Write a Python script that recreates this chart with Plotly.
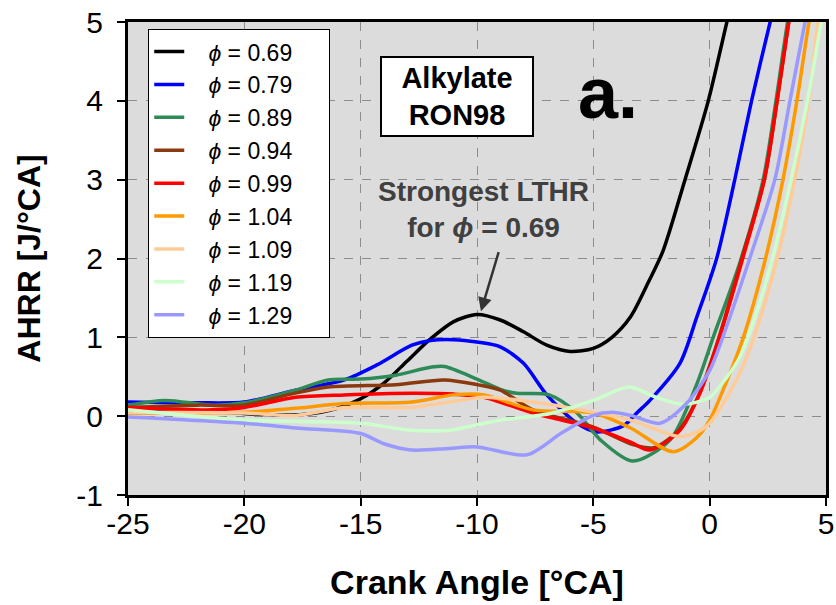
import plotly.graph_objects as go

# Apparent heat release rate vs crank angle for alkylate RON98 at several equivalence ratios
phi_labels = ["0.69", "0.79", "0.89", "0.94", "0.99", "1.04", "1.09", "1.19", "1.29"]
colors = ["#000000", "#0000ff", "#2e8b57", "#8b3a0f", "#ff0000",
          "#ff9900", "#ffcc99", "#ccffcc", "#9999ff"]

ca_069 = [-25, -23, -21, -19, -17.5, -16, -15, -14, -13, -12, -11, -10, -9, -8, -7, -6, -5, -4.2, -3.4, -2.6, -2.0, -1.06, -0.06, 0.74, 1.3]
hr_069 = [0.10, 0.08, 0.05, 0.02, 0.02, 0.10, 0.22, 0.42, 0.70, 0.98, 1.20, 1.29, 1.22, 1.07, 0.90, 0.82, 0.86, 1.0, 1.26, 1.72, 2.1, 3.0, 4.0, 5.0, 5.7]

ca_079 = [-25, -22, -20, -17.8, -15.7, -14.3, -12.8, -12, -11, -10, -9, -8, -7, -5.7, -4.85, -3.7, -3.1, -2.57, -1.28, -0.55, 0.3, 1.08, 1.8, 2.6, 3.1]
hr_079 = [0.18, 0.17, 0.18, 0.33, 0.46, 0.65, 0.90, 0.96, 0.97, 0.94, 0.88, 0.67, 0.27, -0.09, -0.20, -0.12, 0.05, 0.20, 0.67, 1.26, 2.0, 3.0, 4.0, 5.0, 5.6]

ca_089 = [-25, -23.4, -21.4, -20, -17.8, -16.4, -15, -13.5, -12, -11.4, -10, -9, -8.3, -6.9, -5.7, -4.7, -3.3, -1.7, -0.55, 0.15, 1.3, 2.3, 2.85, 3.35, 3.8]
hr_089 = [0.14, 0.20, 0.14, 0.17, 0.33, 0.46, 0.47, 0.52, 0.62, 0.63, 0.47, 0.34, 0.29, 0.27, 0.04, -0.30, -0.57, -0.30, 0.41, 1.0, 1.95, 3.0, 4.0, 5.0, 5.7]

ca_094 = [-25, -22, -20, -18, -16.4, -13.5, -11.4, -10, -9, -7.6, -5, -3.3, -2.4, -1.3, -0.45, 0.4, 1.38, 2.35, 2.9, 3.4, 3.8]
hr_094 = [0.11, 0.14, 0.14, 0.28, 0.37, 0.40, 0.46, 0.40, 0.33, 0.08, -0.14, -0.36, -0.40, -0.17, 0.28, 1.0, 2.0, 3.0, 4.0, 5.0, 5.7]

ca_099 = [-25, -21.4, -20, -17.8, -15.7, -12.8, -11, -9.7, -7.6, -5, -3.4, -2.57, -1.28, -0.42, 0.42, 1.42, 2.35, 2.9, 3.4, 3.8]
hr_099 = [0.11, 0.08, 0.11, 0.24, 0.27, 0.29, 0.28, 0.24, 0.04, -0.15, -0.33, -0.43, -0.18, 0.29, 1.0, 2.0, 3.0, 4.0, 5.0, 5.7]

ca_104 = [-25, -20, -17.8, -15.7, -12.8, -11, -9.7, -7.6, -5, -3.4, -1.57, -0.55, 0, 0.6, 1.45, 2.4, 3.15, 3.75, 4.27, 4.7]
hr_104 = [0.04, 0.05, 0.10, 0.16, 0.18, 0.27, 0.27, 0.08, 0.04, -0.15, -0.45, -0.27, -0.05, 0.35, 1.0, 2.0, 3.0, 4.0, 5.0, 5.7]

ca_109 = [-25, -20, -17.8, -15.7, -12.8, -11, -9.7, -7.6, -5, -3.4, -1.28, -0.4, 0, 0.6, 1.3, 1.9, 2.9, 3.65, 4.25, 4.65, 5.0]
hr_109 = [0.05, 0.04, 0.01, 0.11, 0.11, 0.19, 0.24, 0.18, 0.05, -0.05, -0.26, -0.18, -0.09, 0.17, 0.55, 1.0, 2.0, 3.0, 4.0, 5.0, 5.6]

ca_119 = [-25, -20, -15, -12.8, -11.2, -10, -9, -6.9, -5, -3.45, -2.3, -1.15, 0, 0.7, 1.3, 2.0, 2.7, 3.5, 4.2, 4.8, 5.2]
hr_119 = [0.08, -0.05, -0.09, -0.18, -0.18, -0.11, -0.05, 0.03, 0.20, 0.37, 0.24, 0.15, 0.24, 0.48, 0.75, 1.3, 2.0, 3.0, 4.0, 5.0, 5.6]

ca_129 = [-25, -20, -17.8, -15, -14, -12.8, -11.2, -10, -7.85, -6.4, -5, -4.2, -3.4, -2.14, -1.0, 0, 0.56, 1.72, 2.8, 3.45, 4.1, 4.5]
hr_129 = [-0.01, -0.09, -0.15, -0.22, -0.35, -0.43, -0.41, -0.39, -0.49, -0.22, 0.01, 0.05, 0.01, -0.09, 0.16, 0.58, 1.0, 2.0, 3.0, 4.0, 5.0, 5.6]

crank_angles = [ca_069, ca_079, ca_089, ca_094, ca_099, ca_104, ca_109, ca_119, ca_129]
heat_release = [hr_069, hr_079, hr_089, hr_094, hr_099, hr_104, hr_109, hr_119, hr_129]

x_ticks = [-25, -20, -15, -10, -5, 0, 5]
y_ticks = [-1, 0, 1, 2, 3, 4, 5]

FONT = "Liberation Sans, Arial, sans-serif"
PAD = "&nbsp;" * 3

fig = go.Figure()

for i in range(len(phi_labels)):
    fig.add_trace(go.Scatter(
        x=crank_angles[i], y=heat_release[i],
        mode="lines",
        line=dict(color=colors[i], width=3.5, shape="spline", smoothing=0.8),
        name=PAD + "<i>ϕ</i> = " + phi_labels[i] + PAD + "&nbsp;&nbsp;",
        legendgroup="g%d" % i,
    ))

axis_common = dict(
    showline=True, linecolor="black", linewidth=3, mirror=True,
    ticks="outside", ticklen=8, tickwidth=2, tickcolor="black",
    showgrid=True, gridcolor="#8c8c8c", gridwidth=1, griddash="dash",
    zeroline=False, automargin=False,
    tickfont=dict(family=FONT, size=30, color="black"),
)

fig.update_xaxes(
    range=[-25, 5], tickvals=x_ticks, ticktext=[str(v) for v in x_ticks],
    ticklabelstandoff=-8,
    title=dict(text="<b>Crank Angle [°CA]</b>", font=dict(family=FONT, size=34, color="black"), standoff=32),
    **axis_common,
)
fig.update_yaxes(
    range=[-1, 5], tickvals=y_ticks, ticktext=[str(v) for v in y_ticks],
    ticklabelstandoff=8,
    title=dict(text="<b>AHRR [J/°CA]</b>", font=dict(family=FONT, size=32, color="black"), standoff=27),
    **axis_common,
)

fig.add_annotation(
    x=-10.86, y=4.05, xref="x", yref="y",
    text="<b>Alkylate<br>RON98</b>", showarrow=False,
    font=dict(family=FONT, size=29, color="black"),
    bgcolor="white", bordercolor="black", borderwidth=2, borderpad=0,
    width=150, height=77,
)
fig.add_annotation(
    x=-4.37, y=4.1, xref="x", yref="y",
    text="<b>a.</b>", showarrow=False,
    font=dict(family=FONT, size=72, color="black"),
)
fig.add_annotation(
    x=-9.74, y=2.62, xref="x", yref="y",
    text="<b>Strongest LTHR<br>for <i>ϕ</i> = 0.69</b>", showarrow=False,
    font=dict(family=FONT, size=28, color="#404040"),
)
fig.add_annotation(
    x=-9.83, y=1.33, xref="x", yref="y",
    ax=-9.05, ay=2.1, axref="x", ayref="y",
    text="", showarrow=True,
    arrowhead=2, arrowsize=1.1, arrowwidth=2.5, arrowcolor="#333333",
)

fig.update_layout(
    width=836, height=605,
    margin=dict(l=128, r=10, t=22, b=110),
    paper_bgcolor="white", plot_bgcolor="#dcdcdc",
    font=dict(family=FONT, color="black"),
    showlegend=True,
    legend=dict(
        x=0.029, y=0.985, xanchor="left", yanchor="top",
        bgcolor="white", bordercolor="black", borderwidth=1,
        font=dict(family=FONT, size=23, color="black"),
        itemwidth=30, tracegroupgap=0,
    ),
)

fig.write_html("out.html")
